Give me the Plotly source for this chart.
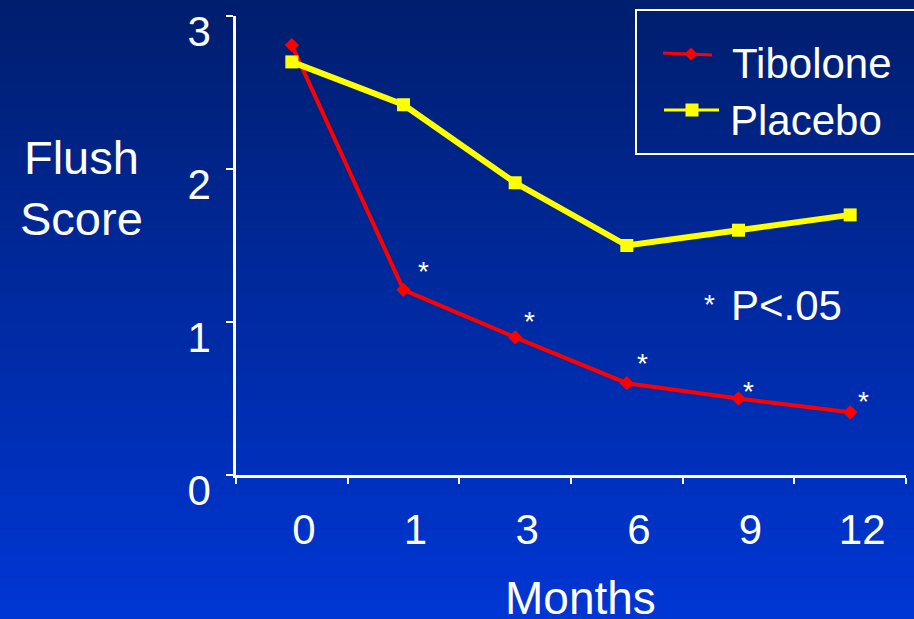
import plotly.graph_objects as go

# Flush score by visit month
months = ["0", "1", "3", "6", "9", "12"]
tibolone = [2.81, 1.21, 0.90, 0.60, 0.50, 0.41]
placebo = [2.70, 2.42, 1.91, 1.50, 1.60, 1.70]
significant = [False, True, True, True, True, True]

W, H = 914, 619
ML, MR, MT, MB = 236, 8, 16, 144
PW, PH = W - ML - MR, H - MT - MB

FONT = "Arial, Liberation Sans, sans-serif"
WHITE = "#ffffff"


def px(x):
    return (x - ML) / PW


def py(y):
    return (H - MB - y) / PH


fig = go.Figure()

fig.add_trace(go.Scatter(
    x=months, y=tibolone, mode="lines+markers", name="Tibolone",
    line=dict(color="#ff0000", width=4),
    marker=dict(symbol="diamond", size=11, color="#ff0000", line=dict(width=0)),
    showlegend=False,
))
fig.add_trace(go.Scatter(
    x=months, y=placebo, mode="lines+markers", name="Placebo",
    line=dict(color="#ffff00", width=6),
    marker=dict(symbol="square", size=13, color="#ffff00", line=dict(width=0)),
    showlegend=False,
))

shapes = []
# vertical background gradient, dark navy at the top to royal blue at the bottom
top_rgb = (0, 30, 110)
bot_rgb = (0, 54, 212)
n = 124
step = H / n
for i in range(n):
    t = i / (n - 1)
    r, g, b = (round(a + (c - a) * t) for a, c in zip(top_rgb, bot_rgb))
    shapes.append(dict(
        type="rect", xref="paper", yref="paper", layer="below",
        x0=px(-5), x1=px(W + 5), y0=py(i * step - 0.5), y1=py((i + 1) * step + 0.5),
        fillcolor=f"rgb({r},{g},{b})", line=dict(width=0),
    ))

# legend frame and keys
shapes.append(dict(type="rect", xref="paper", yref="paper",
                   x0=px(636), x1=px(W + 20), y0=py(154), y1=py(10),
                   line=dict(color=WHITE, width=2), fillcolor="rgba(0,0,0,0)"))
shapes.append(dict(type="line", xref="paper", yref="paper",
                   x0=px(663), x1=px(712), y0=py(53), y1=py(55),
                   line=dict(color="#ff0000", width=3)))
cx, cy, d = 691, 54, 6.5
shapes.append(dict(type="path", xref="paper", yref="paper",
                   path=f"M {px(cx - d)} {py(cy)} L {px(cx)} {py(cy - d)} "
                        f"L {px(cx + d)} {py(cy)} L {px(cx)} {py(cy + d)} Z",
                   fillcolor="#ff0000", line=dict(width=0)))
shapes.append(dict(type="line", xref="paper", yref="paper",
                   x0=px(664), x1=px(719), y0=py(110), y1=py(110),
                   line=dict(color="#ffff00", width=3)))
shapes.append(dict(type="rect", xref="paper", yref="paper",
                   x0=px(685.5), x1=px(698.5), y0=py(116.5), y1=py(103.5),
                   fillcolor="#ffff00", line=dict(width=0)))

annotations = [
    dict(text="Tibolone", x=px(730), y=py(64), xanchor="left", yanchor="middle",
         font=dict(size=42, color=WHITE, family=FONT)),
    dict(text="Placebo", x=px(728), y=py(120), xanchor="left", yanchor="middle",
         font=dict(size=42, color=WHITE, family=FONT)),
    dict(text="Flush<br>Score", x=px(81), y=py(188), xanchor="center", yanchor="middle",
         font=dict(size=47, color=WHITE, family=FONT)),
    dict(text="Months", x=px(580), y=py(598), xanchor="center", yanchor="middle",
         font=dict(size=46, color=WHITE, family=FONT)),
    dict(text="P<.05", x=px(729), y=py(305), xanchor="left", yanchor="middle",
         font=dict(size=42, color=WHITE, family=FONT)),
    dict(text="*", x=px(709), y=py(304), xanchor="center", yanchor="middle",
         font=dict(size=28, color=WHITE, family=FONT)),
]
for a in annotations:
    a.update(xref="paper", yref="paper", showarrow=False)

# significance markers above the tibolone points (x given as category index)
star_shift = [(0, 0), (20, 18), (14, 16), (16, 20), (10, 7), (13, 11)]
for i, (v, sig, (dx, dy)) in enumerate(zip(tibolone, significant, star_shift)):
    if sig:
        annotations.append(dict(
            text="*", x=i, y=v, xref="x", yref="y", xshift=dx, yshift=dy,
            showarrow=False, xanchor="center", yanchor="middle",
            font=dict(size=28, color=WHITE, family=FONT)))

fig.update_layout(
    width=W, height=H,
    margin=dict(l=ML, r=MR, t=MT, b=MB, pad=0),
    paper_bgcolor="rgb(0,40,160)",
    plot_bgcolor="rgba(0,0,0,0)",
    shapes=shapes,
    annotations=annotations,
    font=dict(family=FONT, color=WHITE),
    xaxis=dict(
        type="category", categoryorder="array", categoryarray=months,
        range=[-0.5, 5.5], tickson="boundaries",
        showline=True, linecolor=WHITE, linewidth=3,
        ticks="outside", ticklen=6, tickwidth=2, tickcolor=WHITE,
        showgrid=False, zeroline=False,
        tickfont=dict(size=42, color=WHITE, family=FONT),
        ticklabelshift=12, ticklabelstandoff=16,
    ),
    yaxis=dict(
        range=[0, 3], tickvals=[0, 1, 2, 3],
        showline=True, linecolor=WHITE, linewidth=2.5,
        ticks="outside", ticklen=7, tickwidth=2, tickcolor=WHITE,
        showgrid=False, zeroline=False,
        tickfont=dict(size=42, color=WHITE, family=FONT),
        ticklabelshift=15, ticklabelstandoff=7,
    ),
)

fig.write_html("out.html")
